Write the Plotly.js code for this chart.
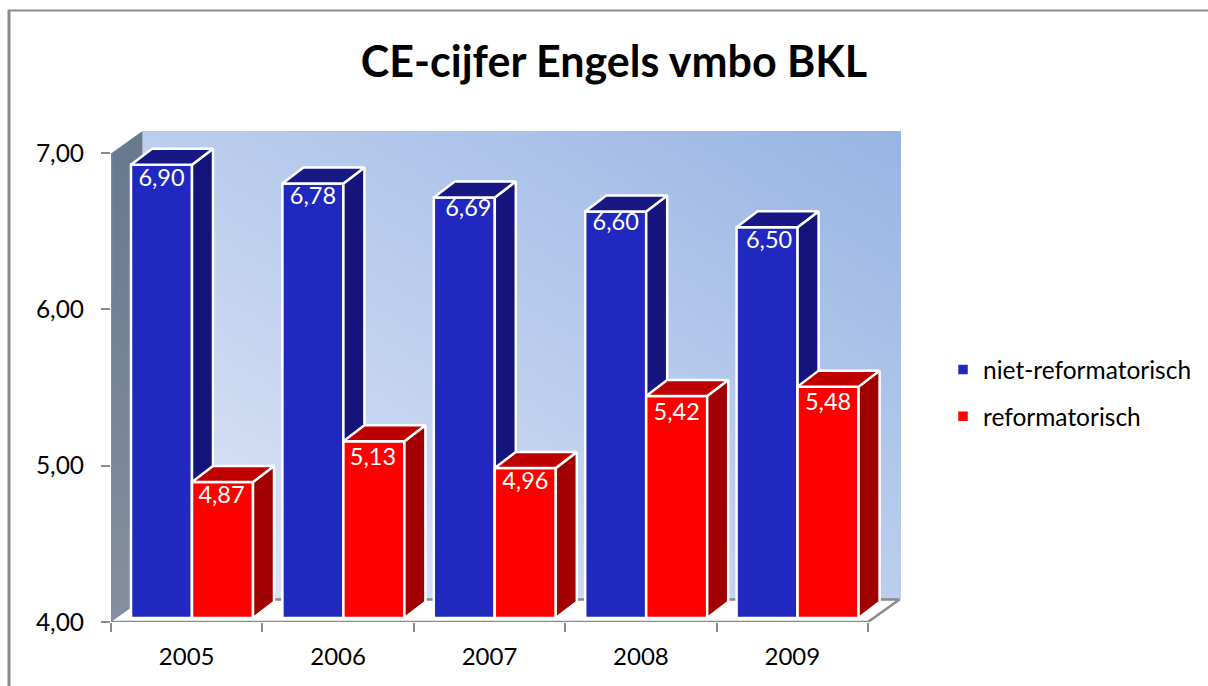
<!DOCTYPE html>
<html><head><meta charset="utf-8">
<script src="https://cdn.plot.ly/plotly-3.0.1.min.js"></script>
<style>html,body{margin:0;padding:0;background:#fff;overflow:hidden}#c{width:1208px;height:686px}</style>
</head><body><div id="c"></div>
<script>
const years = [2005, 2006, 2007, 2008, 2009];
const nietReformatorisch = [6.90, 6.78, 6.69, 6.60, 6.50];
const reformatorisch = [4.87, 5.13, 4.96, 5.42, 5.48];
const yTicks = [4, 5, 6, 7];
const titleText = 'CE-cijfer Engels vmbo BKL';
const names = ['niet-reformatorisch', 'reformatorisch'];

// plot frame in pixels
const L = 111, T = 131, R = 901, B = 622, PW = R - L, PH = B - T;
const ux = 151.4, uy = 156.33;            // pixels per data unit
const xr = [2004.5, 2004.5 + PW / ux], yr = [4, 4 + PH / uy];
const dx = p => p / ux, dy = p => p / uy;
const WALL_X = dx(31.5), WALL_Y = dy(22.5); // wall depth
const BAR_DX = dx(21), BAR_DY = dy(16), BAR_BASE = 4 + dy(4); // bar depth, raised baseline
const BW = dx(61), BLUE_OFF = dx(-55.7), RED_OFF = dx(5.3);
const GREY = '#8a8a8a';
const FONT = 'Lato, "Open Sans", sans-serif';
const EDGE = 2.5;
// hand-placed label nudges of the original, in pixels
const BLUE_DROP = [12, 11, 9, 9, 11], RED_DROP = [12, 14, 12, 15, 14];
const BLUE_SHIFT = [0, 0, 4, 0, 2], RED_SHIFT = [-1, -1, 0, 0, 0];

function makeBackground() {
  const c = document.createElement('canvas'); c.width = PW; c.height = PH;
  const g = c.getContext('2d');
  const wx = WALL_X * ux, wy = WALL_Y * uy, w = PW - wx, h = PH - wy;
  const cx = wx + w / 2, cy = h / 2, k = (w * h) / (w * w + h * h);
  const gr = g.createLinearGradient(cx - h * k, cy + w * k, cx + h * k, cy - w * k);
  gr.addColorStop(0, '#e0e8f6'); gr.addColorStop(1, '#98b4e4');
  g.fillStyle = gr; g.fillRect(wx, 0, w, h);
  const side = g.createLinearGradient(0, 0, wx, PH);
  side.addColorStop(0, '#66798f'); side.addColorStop(1, '#868f9f');
  g.fillStyle = side; g.beginPath();
  g.moveTo(0, wy); g.lineTo(wx, 0); g.lineTo(wx, h); g.lineTo(0, PH); g.closePath(); g.fill();
  return c.toDataURL('image/png');
}

function faces(vals, off) {
  const sx = [], sy = [], tx = [], ty = [];
  vals.forEach((v, i) => {
    const l = years[i] + off, r = l + BW, top = v + dy(4);
    sx.push(r, r + BAR_DX, r + BAR_DX, r, r, null);
    sy.push(BAR_BASE, BAR_BASE + BAR_DY, top + BAR_DY, top, BAR_BASE, null);
    tx.push(l, l + BAR_DX, r + BAR_DX, r, l, null);
    ty.push(top, top + BAR_DY, top + BAR_DY, top, top, null);
  });
  return { sx, sy, tx, ty };
}
function bar(vals, off, color, name, xa, ya) {
  return { type: 'bar', x: years, y: vals.map(v => v + dy(4) - BAR_BASE), base: BAR_BASE,
    width: BW, offset: off, name, xaxis: xa, yaxis: ya, legendgroup: name,
    marker: { color, line: { color: '#fff', width: EDGE } }, cliponaxis: false, hoverinfo: 'skip' };
}
function poly(x, y, color, xa, ya) {
  return { type: 'scatter', mode: 'lines', x, y, fill: 'toself', fillcolor: color, xaxis: xa, yaxis: ya,
    line: { color: '#fff', width: EDGE }, showlegend: false, hoverinfo: 'skip', cliponaxis: false };
}
function labels(vals, off, drop, shift, xa, ya) {
  return { type: 'scatter', mode: 'text', xaxis: xa, yaxis: ya, showlegend: false, hoverinfo: 'skip', cliponaxis: false,
    x: years.map((y, i) => y + off + BW / 2 + dx(shift[i])),
    y: vals.map((v, i) => v + dy(4) - dy(drop[i] + 3.5)),
    text: vals.map(v => v.toFixed(2).replace('.', ',')), textposition: 'middle center',
    textfont: { family: FONT, size: 23.5, color: '#fff' } };
}
const x0 = xr[0], xF = x0 + years.length;
const axisLines = { type: 'scatter', mode: 'lines', showlegend: false, hoverinfo: 'skip', cliponaxis: false,
  x: [x0, x0, null, x0, xF, xF + WALL_X, x0 + WALL_X],
  y: [yTicks[3], 4, null, 4, 4, 4 + WALL_Y, 4 + WALL_Y],
  line: { color: GREY, width: 2.5 } };

const fb = faces(nietReformatorisch, BLUE_OFF), fr = faces(reformatorisch, RED_OFF);
const data = [
  axisLines,
  bar(nietReformatorisch, BLUE_OFF, '#2028bf', names[0], 'x2', 'y2'),
  poly(fb.sx, fb.sy, '#14147a', 'x2', 'y2'),
  poly(fb.tx, fb.ty, '#181884', 'x2', 'y2'),
  labels(nietReformatorisch, BLUE_OFF, BLUE_DROP, BLUE_SHIFT, 'x2', 'y2'),
  bar(reformatorisch, RED_OFF, '#ff0000', names[1], 'x3', 'y3'),
  poly(fr.sx, fr.sy, '#a00000', 'x3', 'y3'),
  poly(fr.tx, fr.ty, '#bf0000', 'x3', 'y3'),
  labels(reformatorisch, RED_OFF, RED_DROP, RED_SHIFT, 'x3', 'y3')
];
const hidden = (over) => ({ range: over === 'x' ? xr : yr, overlaying: over, visible: false, fixedrange: true });
const px = p => (p - L) / PW, py = p => (B - p) / PH;
const layout = {
  width: 1208, height: 686, paper_bgcolor: '#fff', plot_bgcolor: 'rgba(0,0,0,0)',
  margin: { l: L, r: 1208 - R, t: T, b: 686 - B, pad: 0, autoexpand: false },
  separators: ',.',
  font: { family: FONT, size: 24, color: '#000' },
  title: { text: '<b>' + titleText + '</b>', xref: 'container', yref: 'container', x: 614 / 1208, xanchor: 'center',
    y: 1 - 62 / 686, yanchor: 'middle', font: { family: FONT, size: 43, color: '#000' } },
  xaxis: { range: xr, tickvals: years, ticktext: years.map(String), ticks: '', showgrid: false, zeroline: false, showline: false,
    ticklabelstandoff: 18, tickfont: { size: 24, color: '#000' }, fixedrange: true,
    minor: { tickvals: years.map(y => y - 0.5).concat([xF]), ticks: 'outside', ticklen: 9, tickwidth: 2, tickcolor: GREY, showgrid: false } },
  yaxis: { range: yr, tickvals: yTicks, tickformat: '.2f', ticks: 'outside', ticklen: 9, tickwidth: 2, tickcolor: GREY, showgrid: false, zeroline: false, showline: false,
    ticklabelstandoff: 12, tickfont: { size: 24.5, color: '#000' }, fixedrange: true },
  xaxis2: hidden('x'), yaxis2: hidden('y'), xaxis3: hidden('x'), yaxis3: hidden('y'),
  showlegend: true,
  legend: { x: px(943), y: py(347), xanchor: 'left', yanchor: 'top', traceorder: 'grouped', tracegroupgap: 12,
    font: { family: FONT, size: 24.5, color: '#000' }, bgcolor: 'rgba(0,0,0,0)', borderwidth: 0 },
  images: [{ source: makeBackground(), xref: 'x', yref: 'y', x: xr[0], y: yr[1], sizex: xr[1] - xr[0], sizey: yr[1] - yr[0],
    xanchor: 'left', yanchor: 'top', sizing: 'stretch', layer: 'below' }],
  shapes: [
    { type: 'line', xref: 'paper', yref: 'paper', x0: px(9), x1: px(9), y0: py(10), y1: py(686), line: { color: GREY, width: 3 } },
    { type: 'line', xref: 'paper', yref: 'paper', x0: px(8), x1: px(1208), y0: py(10.5), y1: py(10.5), line: { color: GREY, width: 2 } }
  ]
};
Plotly.newPlot('c', data, layout, { displayModeBar: false, staticPlot: true });
</script></body></html>
